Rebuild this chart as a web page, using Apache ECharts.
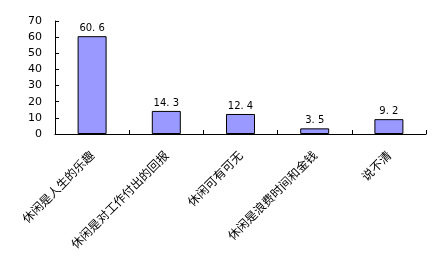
<!DOCTYPE html>
<html><head><meta charset="utf-8">
<script src="https://cdn.jsdelivr.net/npm/echarts@6/dist/echarts.min.js"></script>
<style>html,body{margin:0;padding:0;background:#fff}#c{width:436px;height:263px}</style>
</head><body><div id="c"></div>
<script>
const categories = ['休闲是人生的乐趣','休闲是对工作付出的回报','休闲可有可无','休闲是浪费时间和金钱','说不清'];
const values = [60.6, 14.3, 12.4, 3.5, 9.2];
const yTicks = {min: 0, max: 70, interval: 10};

const chart = echarts.init(document.getElementById('c'), null, {renderer: 'canvas'});
chart.setOption({
  animation: false,
  grid: {left: 55, right: 10, top: 21, bottom: 129, containLabel: false},
  xAxis: {
    type: 'category', data: categories,
    axisLine: {lineStyle: {color: '#000', width: 1}},
    axisTick: {show: true, alignWithLabel: false, length: 4, inside: true, lineStyle: {color: '#000'}},
    axisLabel: {rotate: 45, interval: 0, margin: 19, color: '#000', fontSize: 12,
      fontFamily: 'Noto Sans CJK SC'}
  },
  yAxis: {
    type: 'value', min: yTicks.min, max: yTicks.max, interval: yTicks.interval,
    axisLine: {show: true, lineStyle: {color: '#000', width: 1}},
    axisTick: {show: true, length: 4, inside: true, lineStyle: {color: '#000'}},
    splitLine: {show: false},
    axisLabel: {color: '#000', fontSize: 11, margin: 13, fontFamily: 'DejaVu Sans'}
  },
  series: [{
    type: 'bar', data: values, barWidth: 29,
    itemStyle: {color: '#9999ff', borderColor: '#000', borderWidth: 1},
    label: {show: true, position: 'top', distance: 3, color: '#000', fontSize: 10,
      fontFamily: 'DejaVu Sans', formatter: p => p.value.toFixed(1).replace('.', '. ')}
  }]
});
</script></body></html>
